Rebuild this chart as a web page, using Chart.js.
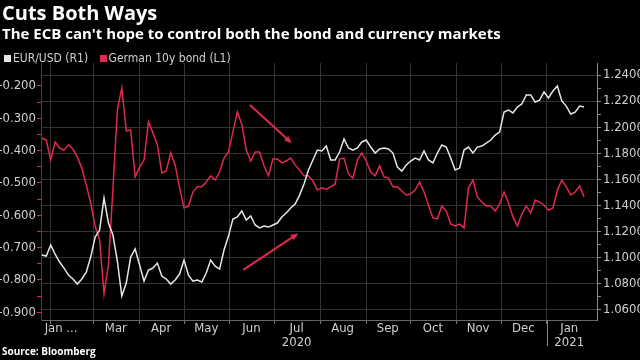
<!DOCTYPE html>
<html>
<head>
<meta charset="utf-8">
<script src="https://cdn.jsdelivr.net/npm/chart.js@4"></script>
<style>
    html, body { margin: 0; padding: 0; background: #000; }
    #wrap { position: relative; width: 640px; height: 360px; overflow: hidden; background: #000; }
    #chart { position: absolute; left: 0; top: 0; }
    .title { position: absolute; left: 2px; top: 1px; color: #fff; font: bold 20px 'Open Sans', sans-serif; line-height: 24px; }
    .subtitle { position: absolute; left: 2px; top: 23px; color: #fff; font: bold 15px 'Open Sans', sans-serif; line-height: 20px; }
    .legend { position: absolute; left: 4px; top: 51px; color: #cfcfcf; font: 12px 'Liberation Sans Narrow', 'DejaVu Sans Condensed', sans-serif; line-height: 14px; }
    .legend span.box { display: inline-block; width: 7px; height: 7px; margin-right: 2px; vertical-align: 0px; }
    .legend span.item { margin-right: 8px; }
    .source { position: absolute; left: 2px; top: 344px; color: #fff; font: bold 10px 'Open Sans', sans-serif; line-height: 14px; }
</style>
</head>
<body>
<div id="wrap">
    <canvas id="chart" width="640" height="360"></canvas>
    <div class="title">Cuts Both Ways</div>
    <div class="subtitle">The ECB can't hope to control both the bond and currency markets</div>
    <div class="legend">
        <span class="item"><span class="box" style="background:#e6e6e6"></span>EUR/USD (R1)</span>
        <span class="item"><span class="box" style="background:#e0294f"></span>German 10y bond (L1)</span>
    </div>
    <div class="source">Source: Bloomberg</div>
</div>
<script>
// ---- dados (um ponto a cada 3 dias) ----
// x = dias desde 1 jan 2020
const firstDay = 25;
const stepDays = 3;

// EUR/USD (eixo direito)
const eurusd = [
    1.1021, 1.1013, 1.1097, 1.1028, 1.0967, 1.0921, 1.0867, 1.0837, 1.0798, 1.0837,
    1.0890, 1.1005, 1.1159, 1.1212, 1.1457, 1.1266, 1.1174, 1.0975, 1.0707, 1.0806,
    1.1005, 1.1067, 1.0944, 1.0821, 1.0906, 1.0921, 1.0959, 1.0860, 1.0837, 1.0798,
    1.0829, 1.0875, 1.0982, 1.0867, 1.0821, 1.0829, 1.0814, 1.0883, 1.0982, 1.0936,
    1.0913, 1.1059, 1.1166, 1.1297, 1.1312, 1.1358, 1.1289, 1.1320, 1.1251, 1.1228,
    1.1243, 1.1235, 1.1251, 1.1266, 1.1312, 1.1343, 1.1381, 1.1411, 1.1480, 1.1565,
    1.1672, 1.1749, 1.1825, 1.1818, 1.1856, 1.1749, 1.1749, 1.1810, 1.1910, 1.1841,
    1.1825, 1.1841, 1.1887, 1.1902, 1.1848, 1.1802, 1.1833, 1.1841, 1.1833, 1.1802,
    1.1695, 1.1664, 1.1710, 1.1741, 1.1764, 1.1749, 1.1818, 1.1749, 1.1726, 1.1802,
    1.1864, 1.1848, 1.1764, 1.1672, 1.1687, 1.1825, 1.1848, 1.1802, 1.1848, 1.1856,
    1.1879, 1.1902, 1.1940, 1.1963, 1.2116, 1.2132, 1.2109, 1.2155, 1.2178, 1.2247,
    1.2247, 1.2193, 1.2208, 1.2270, 1.2224, 1.2277, 1.2316, 1.2201, 1.2162, 1.2101,
    1.2116, 1.2162, 1.2155
];

// Bund 10 anos (eixo esquerdo)
const bund10y = [
    -0.361, -0.367, -0.429, -0.373, -0.392, -0.398, -0.382, -0.395, -0.420, -0.454,
    -0.506, -0.562, -0.633, -0.676, -0.843, -0.751, -0.519, -0.274, -0.206, -0.339,
    -0.336, -0.481, -0.451, -0.429, -0.311, -0.345, -0.382, -0.469, -0.463, -0.407,
    -0.444, -0.515, -0.577, -0.571, -0.528, -0.512, -0.512, -0.497, -0.478, -0.491,
    -0.466, -0.423, -0.404, -0.342, -0.280, -0.318, -0.398, -0.432, -0.404, -0.404,
    -0.447, -0.478, -0.426, -0.426, -0.438, -0.432, -0.423, -0.444, -0.460, -0.478,
    -0.478, -0.494, -0.522, -0.515, -0.519, -0.512, -0.503, -0.426, -0.423, -0.472,
    -0.485, -0.429, -0.407, -0.432, -0.466, -0.478, -0.447, -0.481, -0.485, -0.512,
    -0.512, -0.525, -0.537, -0.534, -0.522, -0.497, -0.528, -0.568, -0.608, -0.611,
    -0.571, -0.587, -0.627, -0.633, -0.627, -0.639, -0.515, -0.491, -0.543, -0.559,
    -0.571, -0.571, -0.587, -0.565, -0.528, -0.562, -0.605, -0.633, -0.596, -0.571,
    -0.593, -0.553, -0.559, -0.568, -0.584, -0.577, -0.522, -0.491, -0.512, -0.537,
    -0.528, -0.509, -0.543
];

// início de cada mês (linhas verticais) e rótulos no meio do mês
const monthStarts = [31, 60, 91, 121, 152, 182, 213, 244, 274, 305, 335, 366];
const monthLabelDays = [38, 75, 105.5, 136, 166.5, 197, 228, 258.5, 289, 319.5, 350, 381];
const monthLabels = ['Jan ...', 'Mar', 'Apr', 'May', 'Jun', ['Jul', '2020'], 'Aug', 'Sep', 'Oct', 'Nov', 'Dec', ['Jan', '2021']];

// setas (dias, valor do eixo esquerdo)
const arrows = [
    { from: [165.5, -0.259], to: [193.7, -0.377] },
    { from: [161, -0.769], to: [198.1, -0.656] }
];

const WHITE = '#e6e6e6';
const RED = '#e0294f';
const GRID = '#333333';

function toPoints(values) {
    return values.map((v, i) => ({ x: firstDay + i * stepDays, y: v }));
}

function range(from, to, step) {
    const out = [];
    for (let v = from; v <= to + 1e-9; v += step) out.push(+v.toFixed(4));
    return out;
}

const xTicks = monthStarts.concat(monthLabelDays).sort((a, b) => a - b);
const isMonthStart = (v) => monthStarts.indexOf(v) >= 0;

// plugin: setas e separador de ano
const extras = {
    id: 'extras',
    afterDatasetsDraw(chart) {
        const { ctx, scales } = chart;
        ctx.save();
        ctx.strokeStyle = RED;
        ctx.fillStyle = RED;
        ctx.lineWidth = 2;
        arrows.forEach(a => {
            const x1 = scales.x.getPixelForValue(a.from[0]);
            const y1 = scales.yL.getPixelForValue(a.from[1]);
            const x2 = scales.x.getPixelForValue(a.to[0]);
            const y2 = scales.yL.getPixelForValue(a.to[1]);
            const ang = Math.atan2(y2 - y1, x2 - x1);
            ctx.beginPath();
            ctx.moveTo(x1, y1);
            ctx.lineTo(x2 - 5 * Math.cos(ang), y2 - 5 * Math.sin(ang));
            ctx.stroke();
            ctx.beginPath();
            ctx.moveTo(x2, y2);
            ctx.lineTo(x2 - 8 * Math.cos(ang - 0.4), y2 - 8 * Math.sin(ang - 0.4));
            ctx.lineTo(x2 - 8 * Math.cos(ang + 0.4), y2 - 8 * Math.sin(ang + 0.4));
            ctx.closePath();
            ctx.fill();
        });
        ctx.restore();
    },
    afterDraw(chart) {
        const { ctx, scales, chartArea } = chart;
        const x = Math.round(scales.x.getPixelForValue(366)) + 0.5;
        ctx.save();
        ctx.strokeStyle = '#888';
        ctx.lineWidth = 1;
        ctx.beginPath();
        ctx.moveTo(x, chartArea.bottom);
        ctx.lineTo(x, chartArea.bottom + 26);
        ctx.stroke();
        ctx.restore();
    }
};

Chart.defaults.font.family = "'Liberation Sans Narrow', 'DejaVu Sans Condensed', sans-serif";
Chart.defaults.font.size = 13;
Chart.defaults.color = '#cfcfcf';

new Chart(document.getElementById('chart'), {
    type: 'line',
    data: {
        datasets: [
            {
                label: 'EUR/USD (R1)',
                data: toPoints(eurusd),
                yAxisID: 'yR',
                borderColor: WHITE,
                borderWidth: 1.5,
                pointRadius: 0,
                tension: 0
            },
            {
                label: 'German 10y bond (L1)',
                data: toPoints(bund10y),
                yAxisID: 'yL',
                borderColor: RED,
                borderWidth: 1.5,
                pointRadius: 0,
                tension: 0
            }
        ]
    },
    options: {
        responsive: false,
        animation: false,
        layout: { padding: { top: 63, left: 0, right: 0, bottom: 0 } },
        plugins: {
            legend: { display: false },
            tooltip: { enabled: false }
        },
        scales: {
            x: {
                type: 'linear',
                min: 24.455,
                max: 399.75,
                afterBuildTicks: (s) => { s.ticks = xTicks.map(v => ({ value: v })); },
                afterFit: (s) => { s.height = 40; },
                grid: {
                    color: (c) => c.tick && isMonthStart(c.tick.value) ? GRID : 'rgba(0,0,0,0)',
                    tickColor: (c) => c.tick && isMonthStart(c.tick.value) ? '#777' : 'rgba(0,0,0,0)',
                    tickLength: 4
                },
                border: { color: '#666' },
                ticks: {
                    autoSkip: false,
                    maxRotation: 0,
                    minRotation: 0,
                    padding: -3,
                    font: { lineHeight: 1.1 },
                    callback: (v) => {
                        const i = monthLabelDays.indexOf(v);
                        return i >= 0 ? monthLabels[i] : '';
                    }
                }
            },
            yL: {
                type: 'linear',
                position: 'left',
                min: -0.9238,
                max: -0.1289,
                afterBuildTicks: (s) => { s.ticks = range(-0.9, -0.2, 0.05).map(v => ({ value: v })); },
                afterFit: (s) => { s.width = 41; },
                grid: { drawOnChartArea: false, tickColor: RED, tickLength: 4 },
                border: { color: '#8a1e32' },
                ticks: {
                    autoSkip: false,
                    padding: 1,
                    callback: (v) => Math.abs(Math.round(v * 10) - v * 10) < 1e-6 ? v.toFixed(3) : ''
                }
            },
            yR: {
                type: 'linear',
                position: 'right',
                min: 1.0523,
                max: 1.2492,
                afterBuildTicks: (s) => { s.ticks = range(1.06, 1.24, 0.01).map(v => ({ value: v })); },
                afterFit: (s) => { s.width = 43; },
                grid: {
                    color: (c) => c.tick && Math.round(c.tick.value * 100) % 2 === 0 ? GRID : 'rgba(0,0,0,0)',
                    tickColor: '#888',
                    tickLength: 4
                },
                border: { color: '#888' },
                ticks: {
                    autoSkip: false,
                    padding: 2,
                    callback: (v) => Math.round(v * 100) % 2 === 0 ? v.toFixed(4) : ''
                }
            }
        }
    },
    plugins: [extras]
});
</script>
</body>
</html>
